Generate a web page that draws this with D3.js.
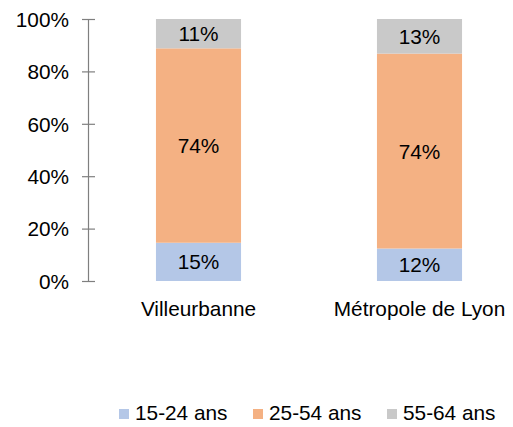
<!DOCTYPE html>
<html>
<head>
<meta charset="utf-8">
<script src="https://cdn.jsdelivr.net/npm/d3@7"></script>
<style>
  body { margin: 0; background: #fff; }
  svg text { font-family: "Liberation Sans", Arial, sans-serif; fill: #000; }
</style>
</head>
<body>
<svg id="chart" width="513" height="427"></svg>
<script>
// Data
var categories = ["Villeurbanne", "Métropole de Lyon"];
var seriesNames = ["15-24 ans", "25-54 ans", "55-64 ans"];
var seriesColors = ["#b4c7e7", "#f4b183", "#c9c9c9"];
var share1524 = [0.146, 0.124];
var share2554 = [0.742, 0.744];
var share5564 = [0.112, 0.132];
var yTicks = [0, 0.2, 0.4, 0.6, 0.8, 1];

// Plot area (window.top is reserved, so plotTop)
var svg = d3.select("#chart"),
    plotTop = 19,
    plotBottom = 281,
    plotLeft = 88,
    fontSize = "20.8px";

var rows = categories.map(function (c, i) {
    return { cat: c, "15-24 ans": share1524[i], "25-54 ans": share2554[i], "55-64 ans": share5564[i] };
});
var stacked = d3.stack().keys(seriesNames)(rows);

var x = d3.scaleBand()
    .domain(categories)
    .range([plotLeft, 530])
    .paddingInner(0.615)
    .paddingOuter(0.3075);

var y = d3.scaleLinear().domain([0, 1]).range([plotBottom, plotTop]);

// Y axis
var yAxis = d3.axisLeft(y)
    .tickValues(yTicks)
    .tickFormat(d3.format(".0%"))
    .tickSizeInner(6)
    .tickSizeOuter(0);

var gy = svg.append("g")
    .attr("transform", "translate(" + plotLeft + ",0)")
    .call(yAxis);
gy.select(".domain").attr("stroke", "#7f7f7f").attr("stroke-width", 1.2);
gy.selectAll(".tick line")
    .attr("x1", -6).attr("x2", 7)
    .attr("stroke", "#7f7f7f").attr("stroke-width", 1.2);
gy.selectAll(".tick text")
    .attr("x", -19)
    .attr("dy", "0.35em")
    .attr("font-size", fontSize)
    .attr("font-family", "Liberation Sans, Arial, sans-serif")
    .attr("fill", "#000");

// Bars
var layer = svg.selectAll(".layer")
    .data(stacked)
    .enter()
    .append("g")
    .attr("class", "layer")
    .attr("fill", function (d, i) { return seriesColors[i]; });

layer.selectAll("rect")
    .data(function (d) { return d; })
    .enter()
    .append("rect")
    .attr("x", function (d) { return x(d.data.cat); })
    .attr("y", function (d) { return y(d[1]); })
    .attr("width", x.bandwidth())
    .attr("height", function (d) { return y(d[0]) - y(d[1]); });

// Value labels
layer.selectAll("text")
    .data(function (d) { return d; })
    .enter()
    .append("text")
    .attr("x", function (d) { return x(d.data.cat) + x.bandwidth() / 2; })
    .attr("y", function (d) { return (y(d[0]) + y(d[1])) / 2; })
    .attr("dy", "0.36em")
    .attr("text-anchor", "middle")
    .attr("font-size", fontSize)
    .text(function (d) { return d3.format(".0%")(d[1] - d[0]); });

// Category labels
svg.selectAll(".cat")
    .data(categories)
    .enter()
    .append("text")
    .attr("class", "cat")
    .attr("x", function (d) { return x(d) + x.bandwidth() / 2; })
    .attr("y", 309)
    .attr("dy", "0.35em")
    .attr("text-anchor", "middle")
    .attr("font-size", fontSize)
    .text(function (d) { return d; });

// Legend
var legendX = [119, 253, 387];
var legend = svg.selectAll(".legend")
    .data(seriesNames)
    .enter()
    .append("g")
    .attr("class", "legend")
    .attr("transform", function (d, i) { return "translate(" + legendX[i] + ",413)"; });

legend.append("rect")
    .attr("x", 0).attr("y", -4)
    .attr("width", 10).attr("height", 10)
    .attr("fill", function (d, i) { return seriesColors[i]; });

legend.append("text")
    .attr("x", 16)
    .attr("y", 0)
    .attr("dy", "0.35em")
    .attr("font-size", fontSize)
    .text(function (d) { return d; });
</script>
</body>
</html>
